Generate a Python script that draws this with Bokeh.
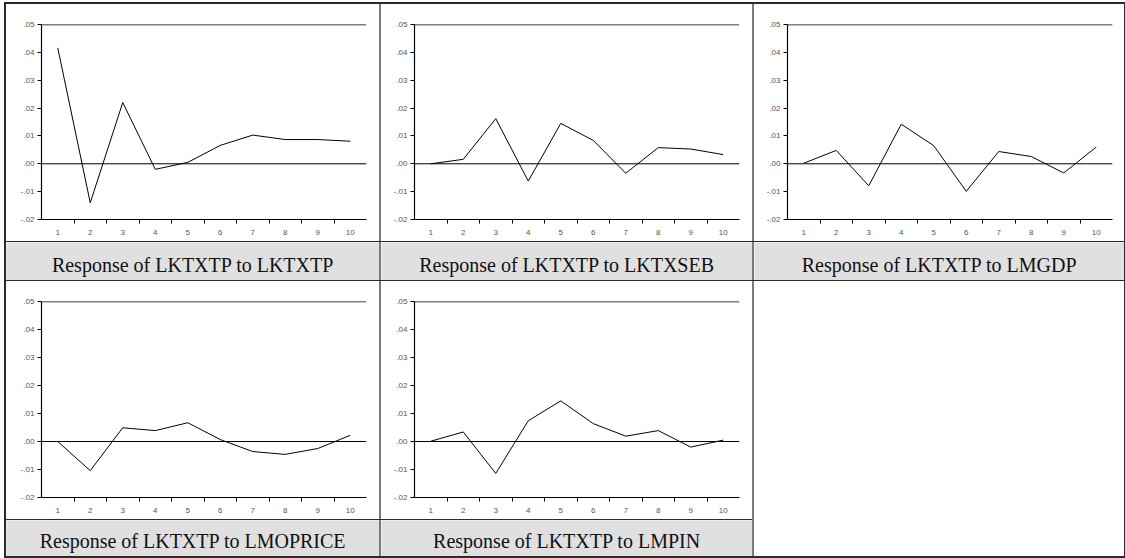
from bokeh.plotting import figure
from bokeh.layouts import row, column
from bokeh.models import (Range1d, FixedTicker, CustomJSTickFormatter, Span, Label, Spacer)
from bokeh.embed import file_html
from bokeh.resources import INLINE

# ---------------- data ----------------
periods = [1, 2, 3, 4, 5, 6, 7, 8, 9, 10]
y_ticks = [-0.02, -0.01, 0.00, 0.01, 0.02, 0.03, 0.04, 0.05]

resp_lktxtp = [0.0416, -0.0140, 0.0220, -0.0020, 0.0005, 0.0066, 0.0103, 0.0087, 0.0087, 0.0081]
resp_lktxseb = [0.0000, 0.0016, 0.0162, -0.0062, 0.0145, 0.0084, -0.0034, 0.0058, 0.0053, 0.0033]
resp_lmgdp = [0.0002, 0.0048, -0.0079, 0.0142, 0.0065, -0.0099, 0.0044, 0.0026, -0.0033, 0.0060]
resp_lmoprice = [0.0000, -0.0104, 0.0049, 0.0039, 0.0067, 0.0007, -0.0036, -0.0046, -0.0025, 0.0022]
resp_lmpin = [0.0001, 0.0034, -0.0114, 0.0074, 0.0145, 0.0064, 0.0019, 0.0039, -0.0020, 0.0005]

captions = ["Response of LKTXTP to LKTXTP",
            "Response of LKTXTP to LKTXSEB",
            "Response of LKTXTP to LMGDP",
            "Response of LKTXTP to LMOPRICE",
            "Response of LKTXTP to LMPIN"]

DARK = "#2b2b2b"
GRAY = "#7a7a7a"
CAP_BG = "#e0e0e0"


def chart(values, w, h, left, right, top, bottom):
    p = figure(width=w, height=h, output_backend="svg", toolbar_location=None,
               x_range=Range1d(0.5, 10.5), y_range=Range1d(-0.02, 0.05),
               min_border_left=left, min_border_right=right,
               min_border_top=top, min_border_bottom=bottom,
               background_fill_color="white", border_fill_color="white",
               outline_line_color=None)
    p.grid.grid_line_color = None
    p.xaxis.ticker = FixedTicker(ticks=periods,
                                 minor_ticks=[v + 0.5 for v in periods[:-1]])
    p.xaxis.major_tick_line_color = None
    p.xaxis.major_tick_out = 4
    p.xaxis.major_tick_in = 0
    p.xaxis.minor_tick_line_color = "black"
    p.xaxis.minor_tick_out = 4
    p.xaxis.minor_tick_in = 0
    p.xaxis.major_label_standoff = 6
    p.yaxis.ticker = FixedTicker(ticks=y_ticks)
    p.yaxis.formatter = CustomJSTickFormatter(
        code='return tick.toFixed(2).replace("0.", ".");')
    p.yaxis.major_tick_out = 4
    p.yaxis.major_tick_in = 0
    p.yaxis.major_tick_line_color = "black"
    p.yaxis.minor_tick_line_color = None
    p.yaxis.major_label_standoff = 3
    for ax in (p.xaxis, p.yaxis):
        ax.axis_line_color = "black"
        ax.axis_line_width = 1.2
        ax.major_label_text_font = "Liberation Sans"
        ax.major_label_text_font_size = "8px"
        ax.major_label_text_color = "#555555"
    p.add_layout(Span(location=0.05, dimension="width", line_color="black", line_width=1.5))
    p.add_layout(Span(location=0.0, dimension="width", line_color="black", line_width=1))
    p.line(periods, values, line_color="black", line_width=1)
    return p


def caption(text, w, h):
    p = figure(width=w, height=h, output_backend="svg", toolbar_location=None,
               x_range=Range1d(0, 1), y_range=Range1d(0, 1),
               x_axis_location=None, y_axis_location=None, min_border=0,
               background_fill_color=CAP_BG, border_fill_color=CAP_BG,
               outline_line_color=None)
    p.grid.grid_line_color = None
    p.add_layout(Label(x=0.5, y=0.42, text=text, text_align="center",
                       text_baseline="middle", text_font="Liberation Serif",
                       text_font_size="20px", text_color="#111111"))
    return p


def bar(w, h, color):
    return Spacer(width=w, height=h, styles={"background-color": color})


W1, W2, W3 = 373, 371, 370
W = 2 + W1 + 2 + W2 + 2 + W3 + 1

c1 = chart(resp_lktxtp, W1, 237, 35, 13, 14, 22)
c2 = chart(resp_lktxseb, W2, 237, 33, 13, 19, 22)
c3 = chart(resp_lmgdp, W3, 237, 33, 12, 20, 22)
c4 = chart(resp_lmoprice, W1, 238, 35, 13, 20, 22)
c5 = chart(resp_lmpin, W2, 238, 33, 13, 18, 22)

k1 = caption(captions[0], W1, 38)
k2 = caption(captions[1], W2, 38)
k3 = caption(captions[2], W3, 38)
k4 = caption(captions[3], W1, 36)
k5 = caption(captions[4], W2, 36)

lower_h = 238 + 1 + 36
lower_left = column(row(c4, bar(2, 238, GRAY), c5, spacing=0),
                    bar(W1 + 2 + W2, 1, DARK),
                    row(k4, bar(2, 36, GRAY), k5, spacing=0), spacing=0)

root = column(
    bar(W, 2, DARK),
    row(bar(2, 237, DARK), c1, bar(2, 237, GRAY), c2, bar(2, 237, GRAY), c3, bar(1, 237, DARK), spacing=0),
    bar(W, 1, DARK),
    row(bar(2, 38, DARK), k1, bar(2, 38, GRAY), k2, bar(2, 38, GRAY), k3, bar(1, 38, DARK), spacing=0),
    bar(W, 1, DARK),
    row(bar(2, lower_h, DARK), lower_left, bar(2, lower_h, GRAY),
        Spacer(width=W3, height=lower_h, styles={"background-color": "white"}),
        bar(1, lower_h, DARK), spacing=0),
    bar(W, 2, DARK),
    spacing=0, margin=(2, 0, 0, 4))

open("out.html", "w").write(file_html(root, INLINE))
